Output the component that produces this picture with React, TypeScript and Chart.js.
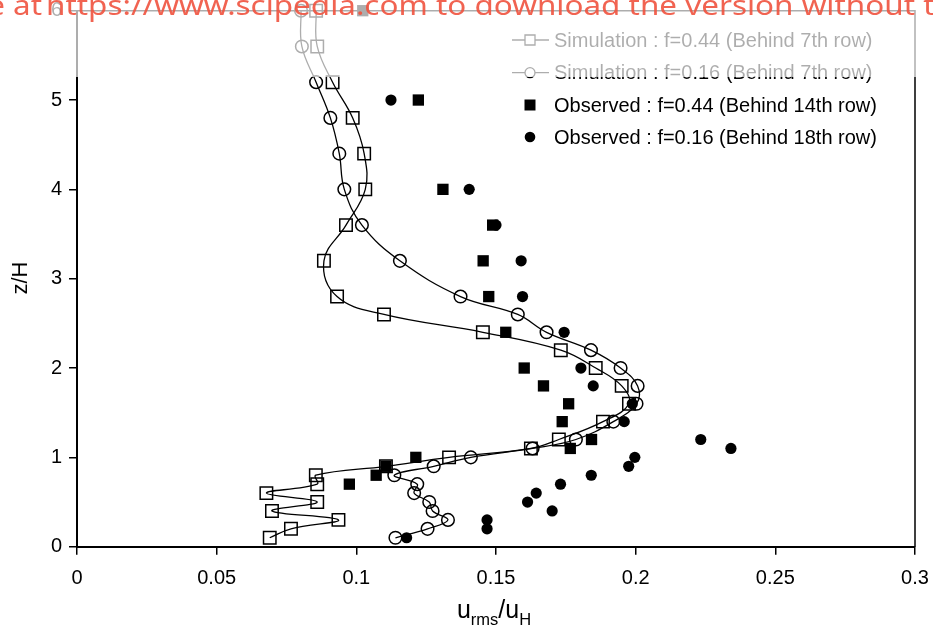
import React, { useEffect, useRef } from 'react';
import { Chart, registerables } from 'chart.js';

Chart.register(...registerables);

// ---- data (z/H heights and u_rms/u_H values) ----
const simHeights = [0.1, 0.2, 0.3, 0.4, 0.5, 0.6, 0.7, 0.8, 0.9, 1.0, 1.1, 1.2, 1.4, 1.6, 1.8, 2.0, 2.2, 2.4, 2.6, 2.8, 3.2, 3.6, 4.0, 4.4, 4.8, 5.2, 5.6, 6.0];
const sim044 = [0.069, 0.0766, 0.0936, 0.0698, 0.086, 0.0678, 0.086, 0.0855, 0.1106, 0.1332, 0.1625, 0.1725, 0.1883, 0.1976, 0.195, 0.1857, 0.1732, 0.1453, 0.1099, 0.0931, 0.0884, 0.0963, 0.1032, 0.1028, 0.0987, 0.0915, 0.086, 0.0856];
const sim016 = [0.114, 0.1255, 0.1328, 0.1273, 0.1261, 0.1207, 0.1218, 0.1136, 0.1277, 0.141, 0.1631, 0.1786, 0.192, 0.2003, 0.2007, 0.1946, 0.184, 0.1681, 0.1578, 0.1373, 0.1156, 0.102, 0.0957, 0.0939, 0.0907, 0.0856, 0.0805, 0.0802];

const obs044Heights = [0.7, 0.8, 0.9, 1.0, 1.1, 1.2, 1.4, 1.6, 1.8, 2.0, 2.4, 2.8, 3.2, 3.6, 4.0, 5.0, 6.0];
const obs044 = [0.0975, 0.1071, 0.1106, 0.1213, 0.1766, 0.1842, 0.1737, 0.176, 0.167, 0.1601, 0.1535, 0.1474, 0.1454, 0.1488, 0.131, 0.1222, 0.1023];

const obs016Heights = [0.1, 0.2, 0.3, 0.4, 0.5, 0.6, 0.7, 0.8, 0.9, 1.0, 1.1, 1.2, 1.4, 1.6, 1.8, 2.0, 2.4, 2.8, 3.2, 3.6, 4.0, 5.0];
const obs016 = [0.118, 0.1468, 0.1468, 0.1701, 0.1613, 0.1644, 0.1731, 0.1841, 0.1975, 0.1997, 0.2341, 0.2233, 0.1959, 0.1988, 0.1848, 0.1804, 0.1744, 0.1595, 0.159, 0.15, 0.1404, 0.1124];

const xTicks = [0, 0.05, 0.1, 0.15, 0.2, 0.25, 0.3];
const xTickLabels = ['0', '0.05', '0.1', '0.15', '0.2', '0.25', '0.3'];
const yTicks = [0, 1, 2, 3, 4, 5, 6];
const yTickLabels = ['0', '1', '2', '3', '4', '5', '6'];

const seriesNames = [
  'Simulation : f=0.44 (Behind 7th row)',
  'Simulation : f=0.16 (Behind 7th row)',
  'Observed : f=0.44 (Behind 14th row)',
  'Observed : f=0.16 (Behind 18th row)',
];

const watermarkLead = 'e at';
const watermarkSpan = 'https://www.scipedia.com to download the version without';
const watermark = 'https://www.scipedia.com to download the version without tracking';

const FONT = '"Liberation Sans", Arial, sans-serif';

const pts = (xs: number[], ys: number[]) => xs.map((x, i) => ({ x, y: ys[i] }));

const decorPlugin = {
  id: 'decor',
  afterDraw(chart: any) {
    const ctx: CanvasRenderingContext2D = chart.ctx;
    const a = chart.chartArea;
    ctx.save();
    // frame top / right
    ctx.strokeStyle = '#000';
    ctx.lineWidth = 1.5;
    ctx.beginPath();
    ctx.moveTo(a.left, a.top);
    ctx.lineTo(a.right, a.top);
    ctx.lineTo(a.right, a.bottom);
    ctx.stroke();

    // y title
    ctx.fillStyle = '#000';
    ctx.font = `22px ${FONT}`;
    ctx.textAlign = 'center';
    ctx.textBaseline = 'middle';
    ctx.save();
    ctx.translate(21, 278);
    ctx.rotate(-Math.PI / 2);
    ctx.fillText('z/H', 0, 0);
    ctx.restore();

    // x title with subscripts
    const parts: [string, boolean][] = [['u', false], ['rms', true], ['/u', false], ['H', true]];
    const big = `25px ${FONT}`;
    const small = `16.5px ${FONT}`;
    let total = 0;
    for (const [t, sub] of parts) {
      ctx.font = sub ? small : big;
      total += ctx.measureText(t).width;
    }
    let x = 494 - total / 2;
    ctx.textAlign = 'left';
    ctx.textBaseline = 'alphabetic';
    for (const [t, sub] of parts) {
      ctx.font = sub ? small : big;
      ctx.fillText(t, x, sub ? 625 : 618);
      x += ctx.measureText(t).width;
    }

    // legend
    const ly = [40, 72.7, 105, 137];
    const mx = 530;
    ctx.font = `20px ${FONT}`;
    ctx.textBaseline = 'middle';
    ctx.lineWidth = 1.3;
    ctx.strokeStyle = '#000';
    for (let i = 0; i < 4; i++) {
      const y = ly[i];
      if (i < 2) {
        ctx.beginPath();
        ctx.moveTo(512, y);
        ctx.lineTo(549, y);
        ctx.stroke();
        ctx.beginPath();
        if (i === 0) ctx.rect(mx - 5, y - 5, 10, 10);
        else ctx.arc(mx, y, 5, 0, Math.PI * 2);
        ctx.fillStyle = '#fff';
        ctx.fill();
        ctx.stroke();
      } else {
        ctx.fillStyle = '#000';
        ctx.beginPath();
        if (i === 2) ctx.rect(mx - 5.5, y - 5.5, 11, 11);
        else ctx.arc(mx, y, 5.3, 0, Math.PI * 2);
        ctx.fill();
      }
      ctx.fillStyle = '#000';
      ctx.fillText(seriesNames[i], 554, y + 1);
    }

    // translucent watermark band
    ctx.fillStyle = 'rgba(255,255,255,0.68)';
    ctx.fillRect(0, 0, chart.width, 77);
    ctx.fillStyle = 'rgba(240,82,62,0.9)';
    ctx.font = '28px "Noto Sans", sans-serif';
    ctx.textBaseline = 'alphabetic';
    const startX = 46;
    const endX = 915;
    const sx = (endX - startX) / ctx.measureText(watermarkSpan).width;
    ctx.save();
    ctx.scale(sx, 1);
    ctx.textAlign = 'right';
    ctx.fillText(watermarkLead, 42 / sx, 15);
    ctx.textAlign = 'left';
    ctx.fillText(watermark, startX / sx, 15);
    ctx.restore();
    ctx.restore();
  },
};

export default function App() {
  const ref = useRef<HTMLCanvasElement>(null);
  useEffect(() => {
    document.body.style.margin = '0';
    const canvas = ref.current;
    if (!canvas) return;
    const tickFont = { family: FONT, size: 20 };
    const zeroPad = (s: any) => {
      s.paddingLeft = 0;
      s.paddingRight = 0;
      s.paddingTop = 0;
      s.paddingBottom = 0;
    };
    const chart = new Chart(canvas, {
      type: 'scatter',
      data: {
        datasets: [
          {
            label: seriesNames[2],
            data: pts(obs044, obs044Heights),
            showLine: false,
            pointStyle: 'rect',
            pointRadius: 8,
            pointBackgroundColor: '#000',
            pointBorderColor: '#000',
            pointBorderWidth: 0,
            order: 0,
            clip: false,
          },
          {
            label: seriesNames[3],
            data: pts(obs016, obs016Heights),
            showLine: false,
            pointStyle: 'circle',
            pointRadius: 5.6,
            pointBackgroundColor: '#000',
            pointBorderColor: '#000',
            pointBorderWidth: 0,
            order: 0,
            clip: false,
          },
          {
            label: seriesNames[0],
            data: pts(sim044, simHeights),
            showLine: true,
            tension: 0.4,
            borderColor: '#000',
            borderWidth: 1.3,
            pointStyle: 'rect',
            pointRadius: 8.8,
            pointBackgroundColor: 'rgba(255,255,255,0)',
            pointBorderColor: '#000',
            pointBorderWidth: 1.5,
            order: 1,
            clip: false,
          },
          {
            label: seriesNames[1],
            data: pts(sim016, simHeights),
            showLine: true,
            tension: 0.4,
            borderColor: '#000',
            borderWidth: 1.3,
            pointStyle: 'circle',
            pointRadius: 6.3,
            pointBackgroundColor: 'rgba(255,255,255,0)',
            pointBorderColor: '#000',
            pointBorderWidth: 1.5,
            order: 1,
            clip: false,
          },
        ],
      } as any,
      options: {
        animation: false,
        responsive: false,
        maintainAspectRatio: false,
        events: [],
        layout: { padding: { left: 0, top: 10.7, right: 18, bottom: 0 } },
        plugins: { legend: { display: false }, tooltip: { enabled: false } },
        scales: {
          x: {
            type: 'linear',
            min: 0,
            max: 0.3,
            afterBuildTicks: (s: any) => {
              s.ticks = xTicks.map((v) => ({ value: v }));
            },
            afterFit: (s: any) => {
              s.height = 86.3;
              zeroPad(s);
            },
            ticks: {
              autoSkip: false,
              maxRotation: 0,
              color: '#000',
              font: tickFont,
              padding: 12,
              callback: (_v: any, i: number) => xTickLabels[i],
            },
            grid: { drawOnChartArea: false, tickLength: 8, color: '#000', lineWidth: 1.5 },
            border: { display: true, color: '#000', width: 2 },
          },
          y: {
            type: 'linear',
            min: 0,
            max: 6,
            afterBuildTicks: (s: any) => {
              s.ticks = yTicks.map((v) => ({ value: v }));
            },
            afterFit: (s: any) => {
              s.width = 77;
              zeroPad(s);
            },
            ticks: {
              autoSkip: false,
              color: '#000',
              font: tickFont,
              padding: 7,
              callback: (_v: any, i: number) => yTickLabels[i],
            },
            grid: { drawOnChartArea: false, tickLength: 8, color: '#000', lineWidth: 1.5 },
            border: { display: true, color: '#000', width: 2 },
          },
        },
      } as any,
      plugins: [decorPlugin],
    });
    return () => chart.destroy();
  }, []);
  return (
    <div style={{ width: 933, height: 633, background: '#fff' }}>
      <canvas ref={ref} width={933} height={633} style={{ display: 'block' }} />
    </div>
  );
}
